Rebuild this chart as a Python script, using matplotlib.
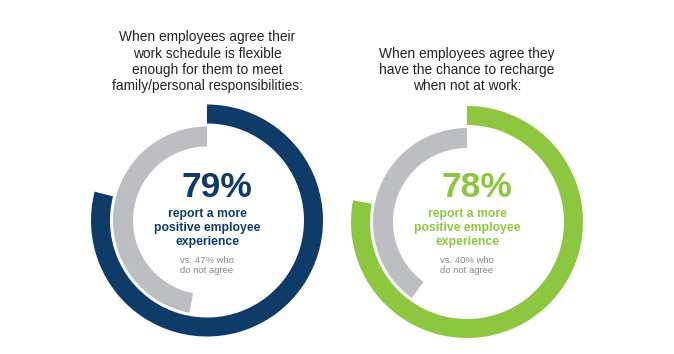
import matplotlib
matplotlib.use('Agg')
import matplotlib.pyplot as plt

plt.rcParams['font.family'] = ['Liberation Sans', 'DejaVu Sans']

# data
titles = [
    "When employees agree their\nwork schedule is flexible\nenough for them to meet\nfamily/personal responsibilities:",
    "When employees agree they\nhave the chance to recharge\nwhen not at work:",
]
agree_pct = [79, 78]
disagree_pct = [47, 40]
main_colors = ['#0f3b69', '#8dc63f']
gray = '#bdbec1'

W, H = 674, 354
fig = plt.figure(figsize=(W / 100, H / 100), dpi=100)

# ring centre (px from top-left) and outer radius in px
centers = [(207, 220.5), (467, 222)]
R = 116

for i in range(2):
    cx, cy = centers[i]
    ax = fig.add_axes([(cx - R) / W, (H - cy - R) / H, 2 * R / W, 2 * R / H])
    # outer ring, clockwise from top
    ax.pie([agree_pct[i], 100 - agree_pct[i]], colors=[main_colors[i], 'none'],
           startangle=90, counterclock=False, radius=1,
           wedgeprops=dict(width=19 / R, linewidth=0))
    # inner ring, counter-clockwise from top
    ax.pie([disagree_pct[i], 100 - disagree_pct[i]], colors=[gray, 'none'],
           startangle=90, counterclock=True, radius=94 / R,
           wedgeprops=dict(width=20 / R, linewidth=0))
    ax.set_xlim(-1, 1)
    ax.set_ylim(-1, 1)
    ax.set_aspect('auto')
    ax.axis('off')

    def py(y):
        return (cy - y) / R

    # multi-line texts are placed by the baseline of their last line
    ax.text(10 / R, py(197), f"{agree_pct[i]}%", ha='center', va='baseline',
            fontsize=25.5, fontweight='bold', color=main_colors[i])
    ax.text(0, py(245), "report a more\npositive employee\nexperience", ha='center',
            va='baseline', fontsize=8.8, fontweight='bold', color=main_colors[i],
            linespacing=1.25)
    ax.text(0, py(273), f"vs. {disagree_pct[i]}% who\ndo not agree", ha='center',
            va='baseline', fontsize=6.8, color='#85878a', linespacing=1.2)

    fig.text(cx / W, (H - 90) / H, titles[i], ha='center', va='baseline',
             fontsize=9.9, color='#222222', linespacing=1.2)

fig.savefig('out.png', dpi=100, facecolor='white')
